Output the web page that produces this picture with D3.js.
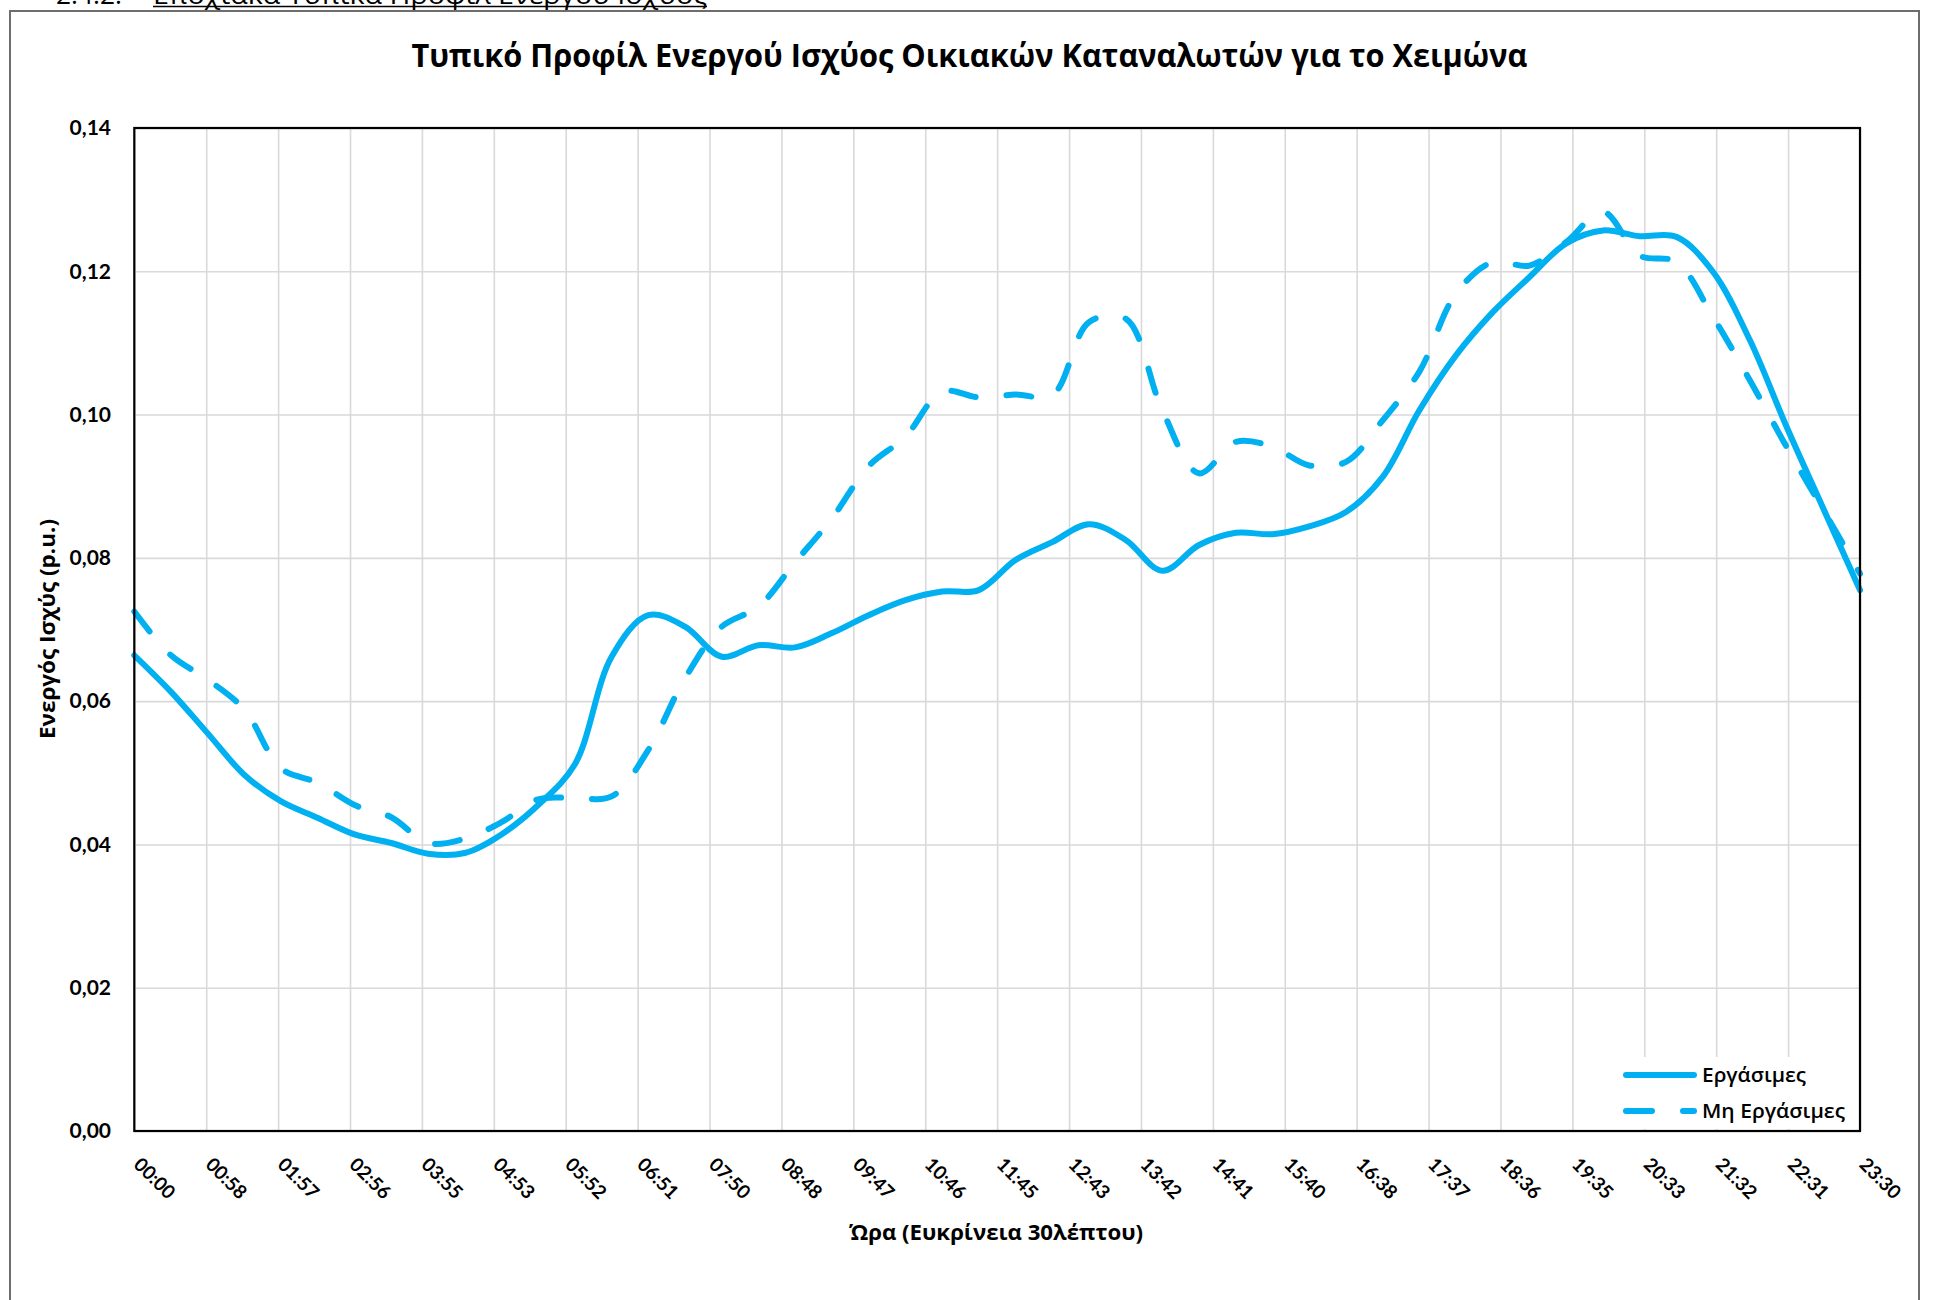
<!DOCTYPE html>
<html><head><meta charset="utf-8">
<script src="https://cdn.jsdelivr.net/npm/d3@7/dist/d3.min.js"></script>
<style>body{margin:0;background:#fff} svg{display:block}</style>
</head><body>
<svg id="c" width="1938" height="1300"></svg>
<script>
// ---------- data ----------
const timeLabels = ["00:00","00:30","01:00","01:30","02:00","02:30","03:00","03:30","04:00","04:30","05:00","05:30",
  "06:00","06:30","07:00","07:30","08:00","08:30","09:00","09:30","10:00","10:30","11:00","11:30",
  "12:00","12:30","13:00","13:30","14:00","14:30","15:00","15:30","16:00","16:30","17:00","17:30",
  "18:00","18:30","19:00","19:30","20:00","20:30","21:00","21:30","22:00","22:30","23:00","23:30"];
const workdays = [0.0664,0.0613,0.0555,0.0497,0.0460,0.0437,0.0414,0.0402,0.0387,0.0388,0.0414,0.0455,
  0.0512,0.0662,0.0720,0.0704,0.0662,0.0678,0.0675,0.0695,0.0720,0.0741,0.0753,0.0755,
  0.0797,0.0822,0.0847,0.0825,0.0782,0.0818,0.0835,0.0833,0.0844,0.0864,0.0913,0.1006,
  0.1083,0.1143,0.1192,0.1239,0.1257,0.1249,0.1248,0.1199,0.1104,0.0983,0.0869,0.0755];
const nonWorkdays = [0.0725,0.0664,0.0630,0.0588,0.0506,0.0486,0.0455,0.0438,0.0402,0.0408,0.0431,0.0463,
  0.0465,0.0467,0.0532,0.0632,0.0704,0.0732,0.0794,0.0855,0.0928,0.0969,0.1032,0.1024,
  0.1028,0.1027,0.1129,0.1134,0.1006,0.0918,0.0962,0.0955,0.0929,0.0934,0.0992,0.1060,
  0.1169,0.1213,0.1208,0.1241,0.1283,0.1222,0.1213,0.1136,0.1048,0.0955,0.0867,0.0778];
const xTickLabels = ["00:00","00:58","01:57","02:56","03:55","04:53","05:52","06:51","07:50","08:48","09:47","10:46",
  "11:45","12:43","13:42","14:41","15:40","16:38","17:37","18:36","19:35","20:33","21:32","22:31","23:30"];
const yTickValues = [0,0.02,0.04,0.06,0.08,0.10,0.12,0.14];
const seriesNames = ["Εργάσιμες","Μη Εργάσιμες"];
const chartTitle = "Τυπικό Προφίλ Ενεργού Ισχύος Οικιακών Καταναλωτών για το Χειμώνα";
const xAxisTitle = "Ώρα (Ευκρίνεια 30λέπτου)";
const yAxisTitle = "Ενεργός Ισχύς (p.u.)";
const headerNum = "2.4.2.";
const headerText = "Εποχιακά Τυπικά Προφίλ Ενεργού Ισχύος";

// ---------- layout ----------
const svg = d3.select("#c");
const L = 134.3, R = 1860, T = 128, B = 1131;
const toMin = s => { const [h,m] = s.split(":").map(Number); return h*60+m; };
const mins = timeLabels.map(toMin);
const x = d3.scaleLinear().domain([0, mins[mins.length-1]]).range([L, R]);
const y = d3.scaleLinear().domain([0, 0.14]).range([B, T]);
const blue = "#00B0F0";
const gridC = "#d9d9d9";
const greek = "'Open Sans','Noto Sans',sans-serif";
const digits = "Lato,'Open Sans',sans-serif";

// header (cut off at top)
svg.append("text").attr("x",56).attr("y",4).attr("font-family",greek).attr("font-size",26)
  .attr("textLength",66).attr("lengthAdjust","spacingAndGlyphs").attr("fill","#000").text(headerNum);
svg.append("text").attr("x",153).attr("y",4).attr("font-family",greek).attr("font-size",26)
  .attr("textLength",554).attr("lengthAdjust","spacingAndGlyphs").attr("fill","#000").text(headerText);
svg.append("line").attr("x1",153).attr("x2",707).attr("y1",6.5).attr("y2",6.5).attr("stroke","#000").attr("stroke-width",1.5);

// outer frame
svg.append("rect").attr("x",10).attr("y",11).attr("width",1909).attr("height",1320)
  .attr("fill","none").attr("stroke","#6d6d6d").attr("stroke-width",2);

// title
svg.append("text").attr("x",969.5).attr("y",67).attr("text-anchor","middle")
  .attr("font-family",greek).attr("font-weight","bold").attr("font-size",33)
  .attr("textLength",1116).attr("lengthAdjust","spacingAndGlyphs").attr("fill","#000").text(chartTitle);

// gridlines
const tickMins = xTickLabels.map((d,i) => i * mins[mins.length-1] / (xTickLabels.length-1));
svg.append("g").attr("transform",`translate(0,${B})`)
  .call(d3.axisBottom(x).tickValues(tickMins).tickSize(-(B-T)).tickFormat(""))
  .call(g => { g.select(".domain").remove(); g.selectAll("line").attr("stroke",gridC).attr("stroke-width",1.6); });
svg.append("g").attr("transform",`translate(${L},0)`)
  .call(d3.axisLeft(y).tickValues(yTickValues).tickSize(-(R-L)).tickFormat(""))
  .call(g => { g.select(".domain").remove(); g.selectAll("line").attr("stroke",gridC).attr("stroke-width",1.6); });

// y tick labels
svg.append("g").selectAll("text").data(yTickValues).join("text")
  .attr("x",111).attr("y",d=>y(d)).attr("dy","0.35em").attr("text-anchor","end")
  .attr("font-family",digits).attr("font-weight","bold").attr("font-size",21).attr("fill","#000")
  .text(d => d3.format(".2f")(d).replace(".",","));

// x tick labels
svg.append("g").selectAll("text").data(xTickLabels).join("text")
  .attr("transform",(d,i)=>`translate(${x(tickMins[i])+3},1161) rotate(45)`)
  .attr("dy","0.35em").attr("text-anchor","start")
  .attr("font-family",digits).attr("font-weight","bold").attr("font-size",19).attr("fill","#000")
  .text(d=>d);

// axis titles
svg.append("text").attr("x",996).attr("y",1232).attr("dy","0.35em").attr("text-anchor","middle")
  .attr("font-family",greek).attr("font-weight","bold").attr("font-size",22)
  .attr("textLength",294).attr("lengthAdjust","spacingAndGlyphs").attr("fill","#000").text(xAxisTitle);
svg.append("text").attr("transform","translate(47,629) rotate(-90)").attr("dy","0.35em").attr("text-anchor","middle")
  .attr("font-family",greek).attr("font-weight","bold").attr("font-size",22)
  .attr("textLength",220).attr("lengthAdjust","spacingAndGlyphs").attr("fill","#000").text(yAxisTitle);

// lines
const line = d3.line().x((d,i)=>x(mins[i])).y(d=>y(d)).curve(d3.curveCatmullRom.alpha(0.5));
const clipId = "plotclip";
svg.append("clipPath").attr("id",clipId).append("rect").attr("x",L-4).attr("y",T).attr("width",R-L+4).attr("height",B-T);
const gLines = svg.append("g");
gLines.append("path").datum(nonWorkdays).attr("d",line).attr("fill","none").attr("stroke",blue)
  .attr("stroke-width",6).attr("stroke-linecap","round").attr("stroke-linejoin","round").attr("stroke-dasharray","25,31");
gLines.append("path").datum(workdays).attr("d",line).attr("fill","none").attr("stroke",blue)
  .attr("stroke-width",6).attr("stroke-linecap","round").attr("stroke-linejoin","round");

// legend
const lg = svg.append("g");
lg.append("rect").attr("x",1600).attr("y",1057).attr("width",258).attr("height",72).attr("fill","#fff");
const legY = [1075, 1111];
seriesNames.forEach((n,i)=>{
  lg.append("line").attr("x1",1626).attr("x2",1694).attr("y1",legY[i]).attr("y2",legY[i])
    .attr("stroke",blue).attr("stroke-width",6).attr("stroke-linecap","round")
    .attr("stroke-dasharray", i===1 ? "26,31" : null);
  lg.append("text").attr("x",1702).attr("y",legY[i]).attr("dy","0.35em")
    .attr("font-family",greek).attr("font-weight","600").attr("font-size",20)
    .attr("textLength", i===0 ? 104 : 143).attr("lengthAdjust","spacingAndGlyphs").attr("fill","#000").text(n);
});

// plot border
svg.append("rect").attr("x",L).attr("y",T).attr("width",R-L).attr("height",B-T)
  .attr("fill","none").attr("stroke","#000").attr("stroke-width",2.2);
</script>
</body></html>
